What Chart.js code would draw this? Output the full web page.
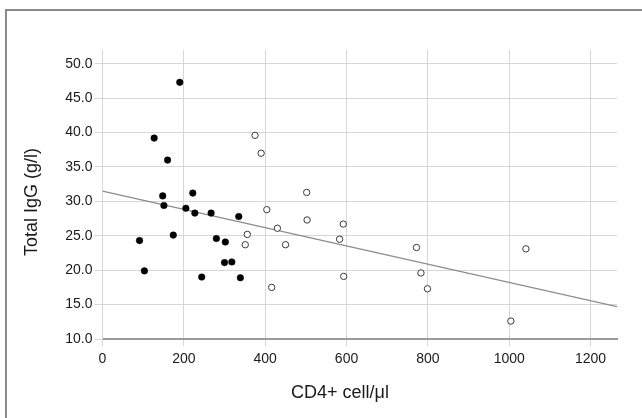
<!DOCTYPE html>
<html>
<head>
<meta charset="utf-8">
<script src="https://cdn.jsdelivr.net/npm/chart.js@4.4.1/dist/chart.umd.min.js"></script>
<style>
  html, body { margin: 0; padding: 0; background: #fff; overflow: hidden; }
  canvas { display: block; }
</style>
</head>
<body>
<canvas id="c" width="642" height="418"></canvas>
<script>
// CD4+ count ≤ ~350 (filled) and > ~350 (open)
const filledX = [91, 103, 127, 190, 160, 148, 151, 174, 205, 222, 227, 267, 244, 280, 302, 300, 318, 335, 339];
const filledY = [24.3, 19.9, 39.2, 47.3, 36.0, 30.8, 29.4, 25.1, 29.0, 31.2, 28.3, 28.3, 19.0, 24.6, 24.1, 21.1, 21.2, 27.8, 18.9];
const openX = [375, 390, 404, 356, 351, 430, 450, 416, 502, 503, 592, 583, 593, 772, 783, 799, 1041, 1004];
const openY = [39.6, 37.0, 28.8, 25.2, 23.7, 26.1, 23.7, 17.5, 31.3, 27.3, 26.7, 24.5, 19.1, 23.3, 19.6, 17.3, 23.1, 12.6];
// fitted line end points
const fitX = [0, 1265];
const fitY = [31.5, 14.7];
const xTicks = [0, 200, 400, 600, 800, 1000, 1200];
const yTicks = [10, 15, 20, 25, 30, 35, 40, 45, 50];
const xTitle = 'CD4+ cell/μl';
const yTitle = 'Total IgG (g/l)';

const zip = (xs, ys) => xs.map((x, i) => ({ x: x, y: ys[i] }));
const FONT = '"Liberation Sans", Arial, Helvetica, sans-serif';
const GRID = '#d6d6d6';
const TEXT = '#1a1a1a';

const decor = {
  id: 'decor',
  beforeDraw(chart) {
    const ctx = chart.ctx;
    ctx.save();
    ctx.strokeStyle = '#8a8a8a';
    ctx.lineWidth = 2;
    ctx.beginPath();
    ctx.moveTo(6, 420); ctx.lineTo(6, 10); ctx.lineTo(650, 10);
    ctx.stroke();
    ctx.restore();
  },
  afterDraw(chart) {
    const ctx = chart.ctx;
    ctx.save();
    ctx.fillStyle = TEXT;
    ctx.font = '18px ' + FONT;
    ctx.textAlign = 'center';
    ctx.textBaseline = 'middle';
    ctx.fillText(xTitle, 340, 393);
    ctx.translate(32, 202);
    ctx.rotate(-Math.PI / 2);
    ctx.fillText(yTitle, 0, 0);
    ctx.restore();
  }
};

new Chart(document.getElementById('c'), {
  type: 'scatter',
  plugins: [decor],
  data: {
    datasets: [
      { type: 'line', data: zip(fitX, fitY), borderColor: '#8c8c8c', borderWidth: 1.2,
        pointRadius: 0, fill: false, tension: 0, order: 3 },
      { data: zip(openX, openY), pointRadius: 3.2, pointBackgroundColor: '#ffffff',
        pointBorderColor: '#3a3a3a', pointBorderWidth: 1, order: 2 },
      { data: zip(filledX, filledY), pointRadius: 3.3, pointBackgroundColor: '#000000',
        pointBorderColor: '#000000', pointBorderWidth: 0.5, order: 1 }
    ]
  },
  options: {
    responsive: false,
    animation: false,
    devicePixelRatio: 1,
    layout: { padding: { top: 50, right: 25, left: 0, bottom: 0 } },
    plugins: { legend: { display: false }, tooltip: { enabled: false } },
    scales: {
      x: {
        type: 'linear', min: 0, max: 1265,
        ticks: { color: TEXT, font: { family: FONT, size: 14 }, padding: 5, maxRotation: 0,
                 callback: v => String(v) },
        afterBuildTicks: s => { s.ticks = xTicks.map(v => ({ value: v })); },
        grid: { color: GRID, lineWidth: 1, tickLength: 7, tickColor: GRID },
        border: { color: '#9a9a9a', width: 2 },
        title: { display: false },
        afterFit: s => { s.height = 79; }
      },
      y: {
        type: 'linear', min: 10, max: 52,
        ticks: { color: TEXT, font: { family: FONT, size: 14 }, padding: 2,
                 callback: v => Number(v).toFixed(1) },
        afterBuildTicks: s => { s.ticks = yTicks.map(v => ({ value: v })); },
        grid: { color: GRID, lineWidth: 1, tickLength: 8, tickColor: GRID },
        border: { color: GRID, width: 1 },
        title: { display: false },
        afterFit: s => { s.width = 102.5; }
      }
    }
  }
});
</script>
</body>
</html>
